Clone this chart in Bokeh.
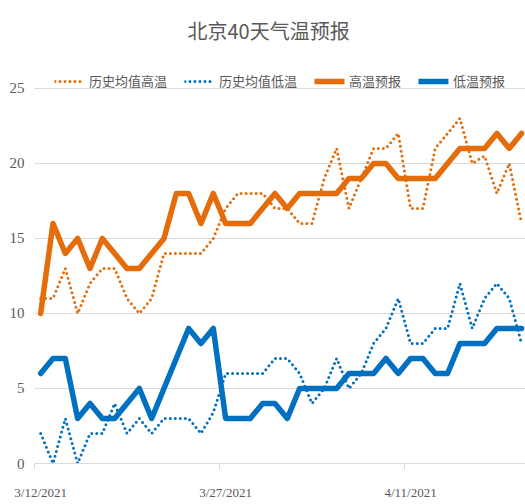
from bokeh.plotting import figure
from bokeh.models import ColumnDataSource, Legend, LegendItem, FixedTicker, Range1d
from bokeh.embed import file_html
from bokeh.resources import INLINE
import pandas as pd

# ---------------- data ----------------
title_text = "北京40天气温预报"
series_names = ["历史均值高温", "历史均值低温", "高温预报", "低温预报"]
start_date = "2021-03-12"
label_every_days = 15

hist_high = [11, 11, 13, 10, 12, 13, 13, 11, 10, 11,
             14, 14, 14, 14, 15, 17, 18, 18, 18, 17,
             17, 16, 16, 19, 21, 17, 19, 21, 21, 22,
             17, 17, 21, 22, 23, 20, 20.5, 18, 20, 16]
hist_low = [2, 0, 3, 0, 2, 2, 4, 2, 3, 2,
            3, 3, 3, 2, 3.4, 6, 6, 6, 6, 7,
            7, 6, 4, 5, 7, 5, 6, 8, 9, 11,
            8, 8, 9, 9, 12, 9, 11, 12, 11, 8]
high_fc = [10, 16, 14, 15, 13, 15, 14, 13, 13, 14,
           15, 18, 18, 16, 18, 16, 16, 16, 17, 18,
           17, 18, 18, 18, 18, 19, 19, 20, 20, 19,
           19, 19, 19, 20, 21, 21, 21, 22, 21, 22]
low_fc = [6, 7, 7, 3, 4, 3, 3, 4, 5, 3,
          5, 7, 9, 8, 9, 3, 3, 3, 4, 4,
          3, 5, 5, 5, 5, 6, 6, 6, 7, 6,
          7, 7, 6, 6, 8, 8, 8, 9, 9, 9]
y_ticks = [0, 5, 10, 15, 20, 25]

# ---------------- derived ----------------
dates = pd.date_range(start_date, periods=len(hist_high))
idx = list(range(len(dates)))
label_idx = idx[::label_every_days]
tick_labels = {i: f"{dates[i].month}/{dates[i].day}/{dates[i].year}" for i in label_idx}
boundary_ticks = [i - 0.5 for i in label_idx]

src = ColumnDataSource(dict(x=idx, hist_high=hist_high, hist_low=hist_low,
                            high_fc=high_fc, low_fc=low_fc))

ORANGE = "#E46C0A"
BLUE = "#0070C0"
TEXT = "#595959"
GRID = "#D9D9D9"
CJK = "Noto Sans CJK SC"
NUM = "Liberation Sans Narrow"

p = figure(width=525, height=504, output_backend="svg", toolbar_location=None,
           x_range=Range1d(-0.5, len(idx) - 0.68), y_range=Range1d(0, 27.06),
           min_border_left=34, min_border_right=0, min_border_top=55, min_border_bottom=41,
           title=title_text)
p.outline_line_color = None
p.background_fill_color = "white"
p.border_fill_color = "white"

p.title.text_font = CJK
p.title.text_font_size = "20px"
p.title.text_font_style = "normal"
p.title.text_color = TEXT
p.title.align = "left"
p.title.offset = 153
p.title.standoff = 26

r1 = p.line("x", "hist_high", source=src, line_color=ORANGE, line_width=3,
            line_dash="0 5", line_cap="round")
r2 = p.line("x", "hist_low", source=src, line_color=BLUE, line_width=3,
            line_dash="0 5", line_cap="round")
r3 = p.line("x", "high_fc", source=src, line_color=ORANGE, line_width=5.5,
            line_join="round", line_cap="round")
r4 = p.line("x", "low_fc", source=src, line_color=BLUE, line_width=5.5,
            line_join="round", line_cap="round")

legend = Legend(items=[LegendItem(label=n, renderers=[r]) for n, r in zip(series_names, [r1, r2, r3, r4])],
                orientation="horizontal", location="top_center",
                label_text_font=CJK, label_text_font_size="13px", label_text_color=TEXT,
                glyph_width=30, glyph_height=16, label_height=16, label_standoff=5,
                spacing=17, padding=0, margin=14,
                background_fill_alpha=0, border_line_color=None)
p.add_layout(legend)

# y axis
p.yaxis.ticker = FixedTicker(ticks=y_ticks)
p.yaxis.axis_line_color = None
p.yaxis.major_tick_line_color = None
p.yaxis.minor_tick_line_color = None
p.yaxis.major_tick_out = 0
p.yaxis.major_tick_in = 0
p.yaxis.major_label_standoff = 10
p.yaxis.major_label_text_font = NUM
p.yaxis.major_label_text_font_size = "15px"
p.yaxis.major_label_text_color = TEXT
p.ygrid.ticker = FixedTicker(ticks=y_ticks)
p.ygrid.grid_line_color = GRID
p.ygrid.grid_line_width = 1
p.xgrid.grid_line_color = None

# x axis: labels centred on the days, tick marks on the day boundaries
p.xaxis.ticker = FixedTicker(ticks=label_idx, minor_ticks=boundary_ticks)
p.xaxis.major_label_overrides = tick_labels
p.xaxis.axis_line_color = GRID
p.xaxis.major_tick_line_color = None
p.xaxis.major_tick_out = 6
p.xaxis.major_tick_in = 0
p.xaxis.minor_tick_line_color = GRID
p.xaxis.minor_tick_out = 6
p.xaxis.minor_tick_in = 0
p.xaxis.major_label_standoff = 15
p.xaxis.major_label_text_font = NUM
p.xaxis.major_label_text_font_size = "13px"
p.xaxis.major_label_text_color = TEXT

open("out.html", "w").write(file_html(p, INLINE))
